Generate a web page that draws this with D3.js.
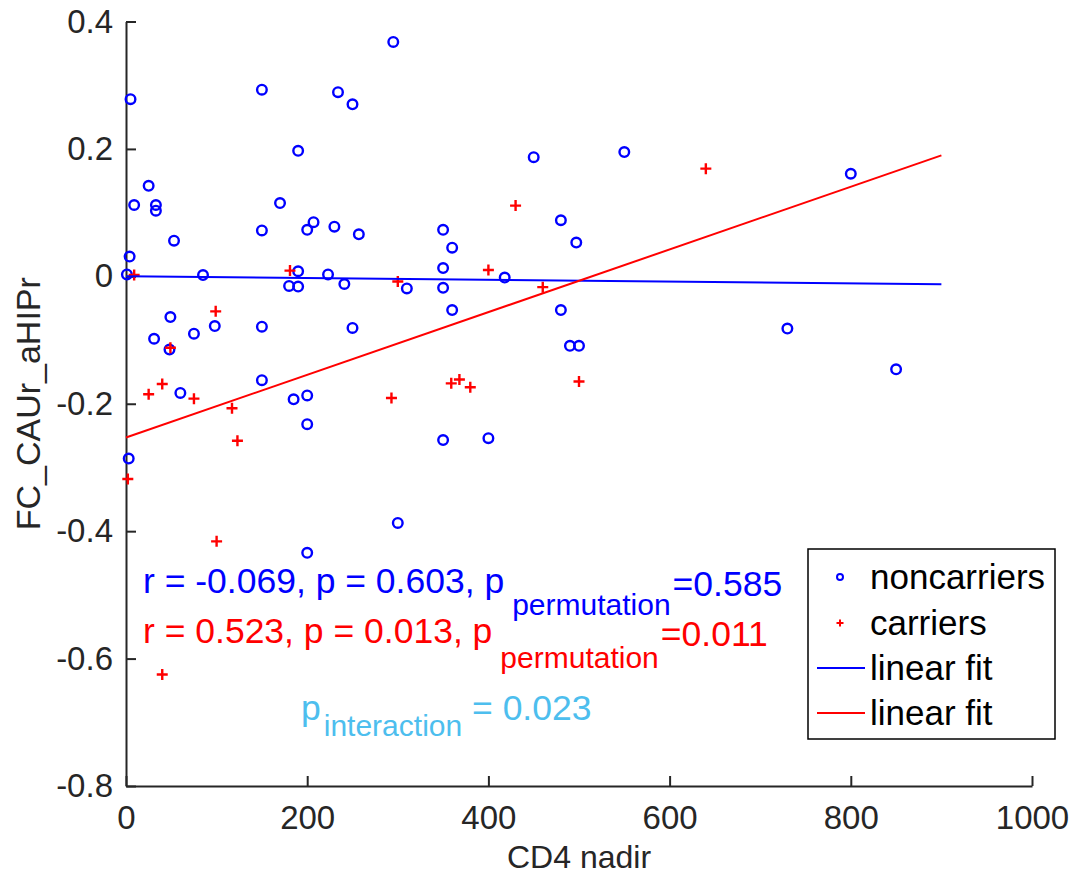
<!DOCTYPE html>
<html>
<head>
<meta charset="utf-8">
<script src="https://cdn.jsdelivr.net/npm/d3@7"></script>
<style>
  body { margin: 0; background: #fff; }
  svg { display: block; font-family: "Liberation Sans", Arial, Helvetica, sans-serif; }
</style>
</head>
<body>
<svg id="chart" width="1075" height="880"></svg>
<script>
// noncarriers (CD4 nadir, FC_CAUr_aHIPr)
const noncarrierX = [295, 5, 150, 234, 250, 190, 25, 9, 33, 33, 170, 53, 150, 200, 207, 230, 257, 4, 1, 85,
  190, 180, 190, 223, 241, 310, 49, 31, 48, 75, 98, 150, 250, 150, 60, 185, 200, 200, 3, 300,
  200, 450, 550, 350, 360, 480, 497, 350, 350, 418, 360, 480, 490, 500, 350, 400, 800, 730, 850];
const noncarrierY = [0.368, 0.278, 0.293, 0.289, 0.270, 0.197, 0.142, 0.112, 0.112, 0.103, 0.115, 0.056, 0.072, 0.073, 0.085, 0.078, 0.066, 0.031, 0.003, 0.002,
  0.008, -0.015, -0.016, 0.003, -0.012, -0.019, -0.064, -0.098, -0.115, -0.090, -0.078, -0.079, -0.081, -0.163, -0.183, -0.193, -0.187, -0.232, -0.286, -0.387,
  -0.434, 0.187, 0.195, 0.073, 0.045, 0.088, 0.053, 0.013, -0.018, -0.002, -0.053, -0.053, -0.109, -0.109, -0.257, -0.254, 0.161, -0.082, -0.146];

// carriers
const carrierX = [9, 181, 300, 99, 49, 40, 25, 75, 117, 123, 2, 100, 293, 40, 640, 430, 400, 460, 359, 368, 380, 500];
const carrierY = [0.002, 0.009, -0.008, -0.055, -0.112, -0.169, -0.185, -0.192, -0.207, -0.258, -0.318, -0.416, -0.191, -0.625,
  0.169, 0.111, 0.010, -0.017, -0.168, -0.162, -0.174, -0.165];

// linear fits: [noncarriers, carriers]
const fitIntercept = [0.0, -0.253];
const fitSlope = [-0.0000136, 0.000492];
const fitRange = [0, 900];

const xTicks = [0, 200, 400, 600, 800, 1000];
const yTicks = [-0.8, -0.6, -0.4, -0.2, 0, 0.2, 0.4];
const legendLabels = ["noncarriers", "carriers", "linear fit", "linear fit"];

const blue = "#0000ff", red = "#ff0000", lightBlue = "#4dbeee", axisColor = "#262626";

const svg = d3.select("#chart");

const x = d3.scaleLinear().domain([0, 1000]).range([126, 1032]);
const y = d3.scaleLinear().domain([-0.8, 0.4]).range([786, 21.5]);

// axes (box off, ticks inward)
const xAxis = svg.append("g")
  .attr("transform", `translate(0,${y(-0.8)})`)
  .call(d3.axisBottom(x).tickValues(xTicks).tickSizeInner(-10).tickSizeOuter(0).tickPadding(20).tickFormat(d3.format("d")));
const yAxis = svg.append("g")
  .attr("transform", `translate(${x(0)},0)`)
  .call(d3.axisLeft(y).tickValues(yTicks).tickSizeInner(-10).tickSizeOuter(0).tickPadding(13)
    .tickFormat(d => d === 0 ? "0" : d.toFixed(1)));

[xAxis, yAxis].forEach(g => {
  g.select(".domain").attr("stroke", axisColor).attr("stroke-width", 2);
  g.selectAll(".tick line").attr("stroke", axisColor).attr("stroke-width", 2);
  g.selectAll(".tick text").attr("fill", axisColor).attr("font-size", 33)
    .attr("font-family", "Liberation Sans, Arial, sans-serif");
});
xAxis.selectAll(".tick text").attr("dy", "0.71em");

svg.append("text")
  .attr("x", (x(0) + x(1000)) / 2)
  .attr("y", 868)
  .attr("text-anchor", "middle")
  .attr("fill", axisColor)
  .attr("font-size", 32)
  .text("CD4 nadir");

svg.append("text")
  .attr("transform", `translate(40,${(y(0.4) + y(-0.8)) / 2}) rotate(-90)`)
  .attr("text-anchor", "middle")
  .attr("fill", axisColor)
  .attr("font-size", 34)
  .text("FC_CAUr_aHIPr");

// points
const nonData = noncarrierX.map((v, i) => ({ x: v, y: noncarrierY[i] }));
const carData = carrierX.map((v, i) => ({ x: v, y: carrierY[i] }));

svg.append("g").selectAll("circle")
  .data(nonData)
  .enter()
  .append("circle")
  .attr("cx", d => x(d.x))
  .attr("cy", d => y(d.y))
  .attr("r", 4.8)
  .attr("fill", "none")
  .attr("stroke", blue)
  .attr("stroke-width", 2.4);

const crossPath = "M-5.5,0H5.5M0,-5.5V5.5";
svg.append("g").selectAll("path")
  .data(carData)
  .enter()
  .append("path")
  .attr("transform", d => `translate(${x(d.x)},${y(d.y)})`)
  .attr("d", crossPath)
  .attr("stroke", red)
  .attr("stroke-width", 2.4);

// fit lines
const line = d3.line().x(d => x(d[0])).y(d => y(d[1]));
[blue, red].forEach((c, i) => {
  svg.append("path")
    .attr("d", line(fitRange.map(v => [v, fitIntercept[i] + fitSlope[i] * v])))
    .attr("fill", "none")
    .attr("stroke", c)
    .attr("stroke-width", 2);
});

// annotations
function statLine(yy, color, main, sub, tail, subDy, backDy) {
  const t = svg.append("text")
    .attr("x", 143)
    .attr("y", yy)
    .attr("fill", color)
    .attr("font-size", 35.5);
  t.append("tspan").text(main);
  t.append("tspan").attr("dx", 8).attr("dy", subDy).attr("font-size", 30).text(sub);
  t.append("tspan").attr("dx", 2).attr("dy", backDy).text(tail);
}
statLine(593, blue, "r = -0.069, p = 0.603, p", "permutation", "=0.585", 22, -19);
statLine(643, red, "r = 0.523, p = 0.013, p", "permutation", "=0.011", 25, -22);

const inter = svg.append("text")
  .attr("x", 301)
  .attr("y", 720)
  .attr("fill", lightBlue)
  .attr("font-size", 35.5);
inter.append("tspan").text("p");
inter.append("tspan").attr("dx", 3).attr("dy", 16).attr("font-size", 30).text("interaction");
inter.append("tspan").attr("dy", -16).text(" = 0.023");

// legend
const legend = svg.append("g");
legend.append("rect")
  .attr("x", 808).attr("y", 549)
  .attr("width", 247).attr("height", 190)
  .attr("fill", "#fff")
  .attr("stroke", "#000")
  .attr("stroke-width", 1.5);

const rowY = [577, 623, 668, 713];
legendLabels.forEach((lab, i) => {
  const cy = rowY[i];
  if (i === 0) {
    legend.append("circle").attr("cx", 840).attr("cy", cy).attr("r", 3)
      .attr("fill", "none").attr("stroke", blue).attr("stroke-width", 2);
  } else if (i === 1) {
    legend.append("path").attr("transform", `translate(840,${cy})`).attr("d", "M-3.5,0H3.5M0,-3.5V3.5")
      .attr("stroke", red).attr("stroke-width", 2);
  } else {
    legend.append("line").attr("x1", 817).attr("x2", 865).attr("y1", cy).attr("y2", cy)
      .attr("stroke", i === 2 ? blue : red).attr("stroke-width", 2);
  }
  legend.append("text")
    .attr("x", 870)
    .attr("y", cy + 12)
    .attr("fill", "#000")
    .attr("font-size", 35)
    .text(lab);
});
</script>
</body>
</html>
